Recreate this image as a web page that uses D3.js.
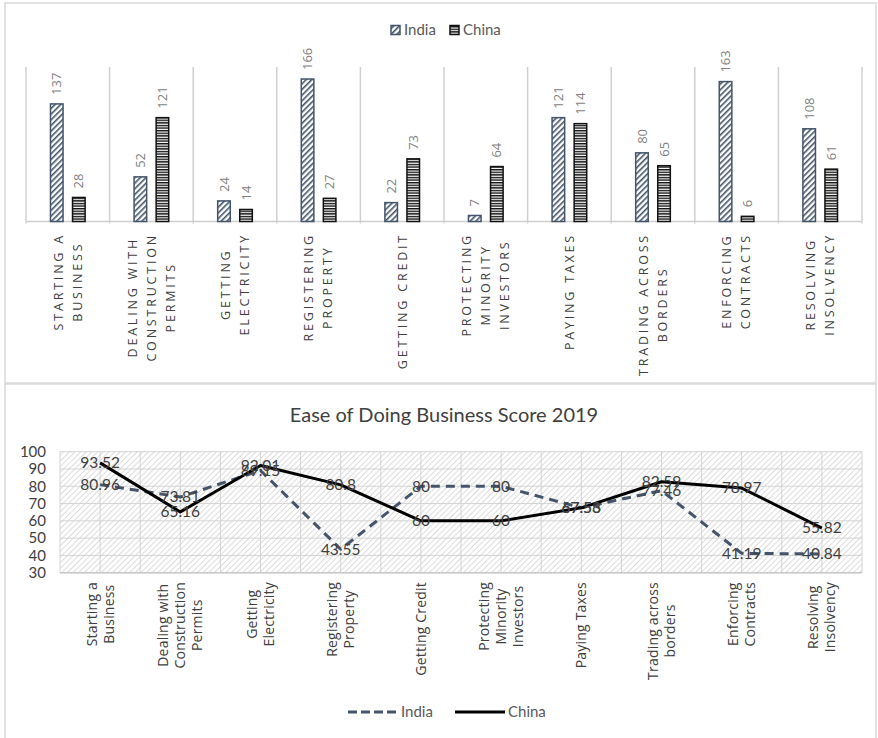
<!DOCTYPE html>
<html>
<head>
<meta charset="utf-8">
<script src="https://cdn.jsdelivr.net/npm/d3@7"></script>
<style>
  body { margin: 0; background: #fff; }
  svg { display: block; }
</style>
</head>
<body>
<div id="chart"></div>
<script>
// categories
const topLabels = [
  ["STARTING A", "BUSINESS"],
  ["DEALING WITH", "CONSTRUCTION", "PERMITS"],
  ["GETTING", "ELECTRICITY"],
  ["REGISTERING", "PROPERTY"],
  ["GETTING CREDIT"],
  ["PROTECTING", "MINORITY", "INVESTORS"],
  ["PAYING TAXES"],
  ["TRADING ACROSS", "BORDERS"],
  ["ENFORCING", "CONTRACTS"],
  ["RESOLVING", "INSOLVENCY"]
];
const bottomLabels = [
  ["Starting a", "Business"],
  ["Dealing with", "Construction", "Permits"],
  ["Getting", "Electricity"],
  ["Registering", "Property"],
  ["Getting Credit"],
  ["Protecting", "Minority", "Investors"],
  ["Paying Taxes"],
  ["Trading across", "borders"],
  ["Enforcing", "Contracts"],
  ["Resolving", "Insolvency"]
];
const series = ["India", "China"];

// ranks (bar chart)
const indiaRank = [137, 52, 24, 166, 22, 7, 121, 80, 163, 108];
const chinaRank = [28, 121, 14, 27, 73, 64, 114, 65, 6, 61];

// scores 2019 (line chart)
const indiaScore = [80.96, 73.81, 89.15, 43.55, 80, 80, 67.56, 77.46, 41.19, 40.84];
const chinaScore = [93.52, 65.16, 92.01, 80.8, 60, 60, 67.53, 82.59, 78.97, 55.82];
const scoreTicks = [30, 40, 50, 60, 70, 80, 90, 100];

const W = 878, H = 738;
const idx = d3.range(topLabels.length);

const svg = d3.select("#chart").append("svg")
  .attr("width", W).attr("height", H);

const defs = svg.append("defs");
// India: diagonal hatch
const pIndia = defs.append("pattern").attr("id", "hatchIndia")
  .attr("patternUnits", "userSpaceOnUse").attr("width", 4).attr("height", 4)
  .attr("patternTransform", "rotate(45)");
pIndia.append("rect").attr("width", 4).attr("height", 4).attr("fill", "#fff");
pIndia.append("rect").attr("width", 1.6).attr("height", 4).attr("fill", "#44546a");
// China: horizontal stripes
const pChina = defs.append("pattern").attr("id", "hatchChina")
  .attr("patternUnits", "userSpaceOnUse").attr("width", 4).attr("height", 2.6);
pChina.append("rect").attr("width", 4).attr("height", 2.6).attr("fill", "#fff");
pChina.append("rect").attr("width", 4).attr("height", 1.4).attr("fill", "#111");
// plot background hatch
const pBg = defs.append("pattern").attr("id", "hatchBg")
  .attr("patternUnits", "userSpaceOnUse").attr("width", 4).attr("height", 4)
  .attr("patternTransform", "rotate(45)");
pBg.append("rect").attr("width", 4).attr("height", 4).attr("fill", "#fff");
pBg.append("rect").attr("width", 1).attr("height", 4).attr("fill", "#dcdcdc");

// frames
svg.append("rect").attr("x", 5).attr("y", 3).attr("width", 871).attr("height", 380)
  .attr("fill", "none").attr("stroke", "#d9d9d9").attr("stroke-width", 1.5);
svg.append("rect").attr("x", 5).attr("y", 384).attr("width", 871).attr("height", 360)
  .attr("fill", "none").attr("stroke", "#d9d9d9").attr("stroke-width", 1.5);

// ---------- top: rank bar chart ----------
const x0 = d3.scaleBand().domain(idx).range([26, 862]);
const x1 = d3.scaleBand().domain(series).range([0, x0.bandwidth()])
  .paddingInner(0.43).paddingOuter(1.11);
const yR = d3.scaleLinear().domain([0, 180]).range([221.5, 67]);

const topG = svg.append("g");

// separators
topG.selectAll("line.sep").data(d3.range(topLabels.length + 1)).enter()
  .append("line")
  .attr("x1", i => i < topLabels.length ? x0(i) : x0.range()[1])
  .attr("x2", i => i < topLabels.length ? x0(i) : x0.range()[1])
  .attr("y1", yR(180)).attr("y2", yR(0) + 2)
  .attr("stroke", "#d0d0d0").attr("stroke-width", 1.5);
topG.append("line").attr("x1", 26).attr("x2", 862)
  .attr("y1", yR(0)).attr("y2", yR(0))
  .attr("stroke", "#cfcfcf").attr("stroke-width", 1.5);

const barData = [];
idx.forEach(i => {
  barData.push({ i, s: "India", v: indiaRank[i] });
  barData.push({ i, s: "China", v: chinaRank[i] });
});

topG.selectAll("rect.bar").data(barData).enter().append("rect")
  .attr("x", d => x0(d.i) + x1(d.s))
  .attr("y", d => yR(d.v))
  .attr("width", x1.bandwidth())
  .attr("height", d => yR(0) - yR(d.v))
  .attr("fill", d => d.s === "India" ? "url(#hatchIndia)" : "url(#hatchChina)")
  .attr("stroke", d => d.s === "India" ? "#44546a" : "#111")
  .attr("stroke-width", 1.5);

topG.selectAll("text.val").data(barData).enter().append("text")
  .attr("transform", d => `translate(${x0(d.i) + x1(d.s) + x1.bandwidth() / 2},${yR(d.v) - 9}) rotate(-90)`)
  .attr("dy", "0.35em")
  .attr("font-family", "'Open Sans', sans-serif").attr("font-size", 13)
  .attr("fill", "#7f7f7f")
  .text(d => d.v);

// rotated multi-line category labels, lines centred, block hanging from top
function rotatedLabels(g, labels, xPos, yTop, lh, style) {
  labels.forEach((lines, i) => {
    const grp = g.append("g").attr("transform", `translate(${xPos(i)},${yTop}) rotate(-90)`);
    const ts = lines.map((ln, k) => {
      const t = grp.append("text")
        .attr("y", (k - (lines.length - 1) / 2) * lh)
        .attr("dy", "0.35em")
        .attr("text-anchor", "middle")
        .attr("font-family", style.family).attr("font-size", style.size)
        .attr("letter-spacing", style.spacing || 0)
        .attr("fill", style.color)
        .text(ln);
      return t;
    });
    const wMax = d3.max(ts, t => t.node().getComputedTextLength());
    ts.forEach(t => t.attr("x", -wMax / 2));
  });
}

rotatedLabels(topG, topLabels, i => x0(i) + x0.bandwidth() / 2, 233, 19,
  { family: "'Open Sans', sans-serif", size: 12.5, spacing: 2.8, color: "#404040" });

// legend (top)
const legTop = svg.append("g").attr("font-family", "Lato, sans-serif").attr("font-size", 15).attr("fill", "#595959");
const legTopX = [391, 450];
series.forEach((s, k) => {
  legTop.append("rect").attr("x", legTopX[k]).attr("y", 25.5).attr("width", 9).attr("height", 9)
    .attr("fill", s === "India" ? "url(#hatchIndia)" : "url(#hatchChina)")
    .attr("stroke", s === "India" ? "#44546a" : "#111").attr("stroke-width", 1.5);
  legTop.append("text").attr("x", legTopX[k] + 13).attr("y", 30).attr("dy", "0.35em").text(s);
});

// ---------- bottom: score line chart ----------
const bot = svg.append("g");
const xS = d3.scalePoint().domain(idx).range([60, 862]).padding(0.5);
const yS = d3.scaleLinear().domain([30, 100]).range([572.7, 451.7]);
const step = xS.step();

bot.append("text").attr("x", 444).attr("y", 415).attr("dy", "0.35em")
  .attr("text-anchor", "middle")
  .attr("font-family", "Lato, sans-serif").attr("font-size", 20)
  .attr("fill", "#404040")
  .text("Ease of Doing Business Score 2019");

bot.append("rect").attr("x", 60).attr("y", yS(100)).attr("width", 802)
  .attr("height", yS(30) - yS(100)).attr("fill", "url(#hatchBg)");

// grid: horizontal each tick, vertical at every half category
bot.selectAll("line.hg").data(scoreTicks).enter().append("line")
  .attr("x1", 60).attr("x2", 862).attr("y1", d => yS(d)).attr("y2", d => yS(d))
  .attr("stroke", "#d4d4d4").attr("stroke-width", 1);
bot.selectAll("line.vg").data(d3.range(0, topLabels.length * 2 + 1)).enter().append("line")
  .attr("x1", k => 60 + k * step / 2).attr("x2", k => 60 + k * step / 2)
  .attr("y1", yS(100)).attr("y2", yS(30))
  .attr("stroke", "#d4d4d4").attr("stroke-width", 1);
bot.append("line").attr("x1", 60).attr("x2", 862).attr("y1", yS(30)).attr("y2", yS(30))
  .attr("stroke", "#c8c8c8").attr("stroke-width", 1.5);

const yAxis = d3.axisLeft(yS).tickValues(scoreTicks).tickSize(0).tickPadding(14);
bot.append("g").attr("transform", "translate(60,0)").call(yAxis)
  .call(g => g.select(".domain").remove())
  .call(g => g.selectAll("text").attr("font-family", "Lato, sans-serif")
    .attr("font-size", 15).attr("fill", "#404040"));

const line = d3.line().x((d, i) => xS(i)).y(d => yS(d));
bot.append("path").datum(indiaScore).attr("d", line)
  .attr("fill", "none").attr("stroke", "#44546a").attr("stroke-width", 3)
  .attr("stroke-dasharray", "9,6").attr("stroke-linejoin", "round");
bot.append("path").datum(chinaScore).attr("d", line)
  .attr("fill", "none").attr("stroke", "#000").attr("stroke-width", 3)
  .attr("stroke-linejoin", "round");

const lblData = [];
idx.forEach(i => {
  lblData.push({ i, v: indiaScore[i] });
  lblData.push({ i, v: chinaScore[i] });
});
bot.selectAll("text.lbl").data(lblData).enter().append("text")
  .attr("x", d => xS(d.i)).attr("y", d => yS(d.v)).attr("dy", "0.35em")
  .attr("text-anchor", "middle")
  .attr("font-family", "Lato, sans-serif").attr("font-size", 15.5)
  .attr("fill", "#404040")
  .text(d => d.v);

rotatedLabels(bot, bottomLabels, i => xS(i), 582, 17,
  { family: "'Open Sans', sans-serif", size: 14, spacing: 0.2, color: "#404040" });

// legend (bottom)
const legBot = svg.append("g").attr("font-family", "Lato, sans-serif").attr("font-size", 15).attr("fill", "#595959");
legBot.append("line").attr("x1", 348).attr("x2", 397).attr("y1", 712).attr("y2", 712)
  .attr("stroke", "#44546a").attr("stroke-width", 3).attr("stroke-dasharray", "9,4");
legBot.append("text").attr("x", 401).attr("y", 712).attr("dy", "0.35em").text("India");
legBot.append("line").attr("x1", 455).attr("x2", 505).attr("y1", 712).attr("y2", 712)
  .attr("stroke", "#000").attr("stroke-width", 3);
legBot.append("text").attr("x", 508).attr("y", 712).attr("dy", "0.35em").text("China");
</script>
</body>
</html>
